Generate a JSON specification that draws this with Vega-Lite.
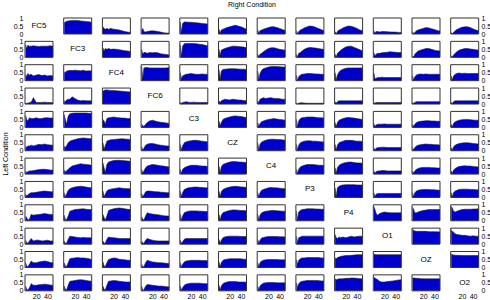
{
 "$schema": "https://vega.github.io/schema/vega-lite/v6.json",
 "padding": {"left": 1, "top": 1, "right": 0, "bottom": 0},
 "background": "white",
 "config": {"view": {"stroke": null}, "font": "Liberation Sans"},
 "bounds": "flush",
 "data": {"values": [
  {"r":"FC5","c":"FC5","t":"FC5"},
  {"r":"FC5","c":"FC3","xs":[1,3,5,8,11,15,20,25,30,35,40,45,50],"ys":[0.7,0.75,0.8,0.82,0.83,0.85,0.85,0.84,0.82,0.8,0.78,0.76,0.74]},
  {"r":"FC5","c":"FC4","xs":[1,3,5,8,11,15,20,25,30,35,40,45,50],"ys":[0.45,0.35,0.3,0.35,0.3,0.35,0.3,0.28,0.25,0.2,0.15,0.12,0.1]},
  {"r":"FC5","c":"FC6","xs":[1,3,5,8,11,15,20,25,30,35,40,45,50],"ys":[0.2,0.35,0.15,0.12,0.15,0.18,0.2,0.18,0.15,0.12,0.08,0.06,0.05]},
  {"r":"FC5","c":"C3","xs":[1,3,5,8,11,15,20,25,30,35,40,45,50],"ys":[0.75,0.1,0.65,0.75,0.75,0.74,0.73,0.72,0.7,0.68,0.66,0.64,0.62]},
  {"r":"FC5","c":"CZ","xs":[1,3,5,8,11,15,20,25,30,35,40,45,50],"ys":[0.3,0.05,0.25,0.3,0.35,0.4,0.45,0.5,0.55,0.5,0.45,0.38,0.3]},
  {"r":"FC5","c":"C4","xs":[1,3,5,8,11,15,20,25,30,35,40,45,50],"ys":[0.25,0.05,0.2,0.25,0.3,0.35,0.4,0.45,0.45,0.4,0.35,0.28,0.22]},
  {"r":"FC5","c":"P3","xs":[1,3,5,8,11,15,20,25,30,35,40,45,50],"ys":[0.2,0.02,0.15,0.25,0.3,0.38,0.45,0.5,0.48,0.42,0.35,0.28,0.2]},
  {"r":"FC5","c":"P4","xs":[1,3,5,8,11,15,20,25,30,35,40,45,50],"ys":[0.15,0.02,0.15,0.25,0.3,0.38,0.45,0.5,0.48,0.42,0.35,0.25,0.2]},
  {"r":"FC5","c":"O1","xs":[1,3,5,8,11,15,20,25,30,35,40,45,50],"ys":[0.2,0.05,0.15,0.15,0.12,0.15,0.15,0.14,0.13,0.12,0.12,0.1,0.1]},
  {"r":"FC5","c":"OZ","xs":[1,3,5,8,11,15,20,25,30,35,40,45,50],"ys":[0.15,0.02,0.1,0.2,0.25,0.3,0.35,0.4,0.38,0.33,0.28,0.22,0.18]},
  {"r":"FC5","c":"O2","xs":[1,3,5,8,11,15,20,25,30,35,40,45,50],"ys":[0.1,0.02,0.1,0.2,0.28,0.35,0.42,0.45,0.45,0.4,0.32,0.25,0.2]},

  {"r":"FC3","c":"FC5","xs":[1,3,5,8,11,15,20,25,30,35,40,45,50],"ys":[0.8,0.55,0.75,0.7,0.7,0.72,0.7,0.68,0.7,0.7,0.7,0.72,0.7]},
  {"r":"FC3","c":"FC3","t":"FC3"},
  {"r":"FC3","c":"FC4","xs":[1,3,5,8,11,15,20,25,30,35,40,45,50],"ys":[0.6,0.4,0.55,0.5,0.55,0.5,0.52,0.5,0.48,0.45,0.42,0.4,0.36]},
  {"r":"FC3","c":"FC6","xs":[1,3,5,8,11,15,20,25,30,35,40,45,50],"ys":[0.5,0.2,0.3,0.3,0.25,0.3,0.28,0.3,0.28,0.22,0.2,0.18,0.15]},
  {"r":"FC3","c":"C3","xs":[1,3,5,8,11,15,20,25,30,35,40,45,50],"ys":[0.8,0.05,0.7,0.85,0.86,0.87,0.87,0.86,0.85,0.82,0.8,0.76,0.72]},
  {"r":"FC3","c":"CZ","xs":[1,3,5,8,11,15,20,25,30,35,40,45,50],"ys":[0.5,0.1,0.45,0.5,0.55,0.6,0.65,0.7,0.7,0.68,0.66,0.64,0.6]},
  {"r":"FC3","c":"C4","xs":[1,3,5,8,11,15,20,25,30,35,40,45,50],"ys":[0.2,0.02,0.2,0.25,0.35,0.45,0.55,0.6,0.6,0.55,0.5,0.48,0.45]},
  {"r":"FC3","c":"P3","xs":[1,3,5,8,11,15,20,25,30,35,40,45,50],"ys":[0.2,0.02,0.25,0.3,0.4,0.5,0.58,0.62,0.6,0.58,0.55,0.52,0.5]},
  {"r":"FC3","c":"P4","xs":[1,3,5,8,11,15,20,25,30,35,40,45,50],"ys":[0.2,0.02,0.25,0.35,0.45,0.55,0.65,0.7,0.7,0.62,0.55,0.48,0.4]},
  {"r":"FC3","c":"O1","xs":[1,3,5,8,11,15,20,25,30,35,40,45,50],"ys":[0.3,0.08,0.2,0.25,0.25,0.28,0.3,0.32,0.35,0.33,0.32,0.3,0.3]},
  {"r":"FC3","c":"OZ","xs":[1,3,5,8,11,15,20,25,30,35,40,45,50],"ys":[0.1,0.02,0.2,0.3,0.4,0.45,0.5,0.55,0.55,0.5,0.45,0.42,0.4]},
  {"r":"FC3","c":"O2","xs":[1,3,5,8,11,15,20,25,30,35,40,45,50],"ys":[0.1,0.02,0.15,0.25,0.35,0.45,0.5,0.55,0.55,0.52,0.5,0.47,0.45]},

  {"r":"FC4","c":"FC5","xs":[1,3,5,8,11,15,20,25,30,35,40,45,50],"ys":[0.4,0.25,0.45,0.35,0.4,0.3,0.35,0.38,0.32,0.35,0.3,0.32,0.3]},
  {"r":"FC4","c":"FC3","xs":[1,3,5,8,11,15,20,25,30,35,40,45,50],"ys":[0.55,0.5,0.6,0.62,0.65,0.63,0.66,0.64,0.62,0.65,0.6,0.62,0.6]},
  {"r":"FC4","c":"FC4","t":"FC4"},
  {"r":"FC4","c":"FC6","xs":[1,3,5,8,11,15,20,25,30,35,40,45,50],"ys":[0.9,0.1,0.8,0.82,0.82,0.8,0.8,0.8,0.8,0.79,0.8,0.8,0.82]},
  {"r":"FC4","c":"C3","xs":[1,3,5,8,11,15,20,25,30,35,40,45,50],"ys":[0.5,0.1,0.3,0.35,0.4,0.42,0.45,0.42,0.4,0.4,0.42,0.4,0.4]},
  {"r":"FC4","c":"CZ","xs":[1,3,5,8,11,15,20,25,30,35,40,45,50],"ys":[0.7,0.08,0.6,0.7,0.72,0.73,0.75,0.75,0.74,0.73,0.72,0.72,0.7]},
  {"r":"FC4","c":"C4","xs":[1,3,5,8,11,15,20,25,30,35,40,45,50],"ys":[0.6,0.05,0.45,0.65,0.75,0.8,0.85,0.88,0.88,0.88,0.87,0.86,0.85]},
  {"r":"FC4","c":"P3","xs":[1,3,5,8,11,15,20,25,30,35,40,45,50],"ys":[0.35,0.02,0.25,0.35,0.4,0.42,0.45,0.45,0.44,0.42,0.42,0.4,0.4]},
  {"r":"FC4","c":"P4","xs":[1,3,5,8,11,15,20,25,30,35,40,45,50],"ys":[0.5,0.05,0.35,0.55,0.65,0.72,0.78,0.8,0.8,0.8,0.8,0.8,0.8]},
  {"r":"FC4","c":"O1","xs":[1,3,5,8,11,15,20,25,30,35,40,45,50],"ys":[0.5,0.1,0.15,0.2,0.2,0.22,0.2,0.2,0.2,0.2,0.2,0.2,0.2]},
  {"r":"FC4","c":"OZ","xs":[1,3,5,8,11,15,20,25,30,35,40,45,50],"ys":[0.3,0.05,0.25,0.35,0.4,0.42,0.4,0.42,0.4,0.4,0.4,0.4,0.4]},
  {"r":"FC4","c":"O2","xs":[1,3,5,8,11,15,20,25,30,35,40,45,50],"ys":[0.3,0.05,0.3,0.4,0.45,0.48,0.45,0.47,0.45,0.45,0.45,0.45,0.45]},

  {"r":"FC6","c":"FC5","xs":[1,3,5,8,11,15,20,25,30,35,40,45,50],"ys":[0.05,0.05,0.05,0.1,0.12,0.4,0.1,0.1,0.1,0.12,0.1,0.1,0.08]},
  {"r":"FC6","c":"FC3","xs":[1,3,5,8,11,15,20,25,30,35,40,45,50],"ys":[0.2,0.15,0.25,0.3,0.3,0.45,0.35,0.25,0.2,0.22,0.2,0.2,0.2]},
  {"r":"FC6","c":"FC4","xs":[1,3,5,8,11,15,20,25,30,35,40,45,50],"ys":[0.8,0.85,0.88,0.88,0.87,0.85,0.85,0.83,0.82,0.8,0.78,0.77,0.75]},
  {"r":"FC6","c":"FC6","t":"FC6"},
  {"r":"FC6","c":"C3","xs":[1,3,5,8,11,15,20,25,30,35,40,45,50],"ys":[0.1,0.05,0.1,0.12,0.15,0.12,0.1,0.12,0.1,0.1,0.1,0.1,0.1]},
  {"r":"FC6","c":"CZ","xs":[1,3,5,8,11,15,20,25,30,35,40,45,50],"ys":[0.2,0.1,0.2,0.25,0.3,0.28,0.25,0.3,0.28,0.25,0.25,0.22,0.2]},
  {"r":"FC6","c":"C4","xs":[1,3,5,8,11,15,20,25,30,35,40,45,50],"ys":[0.2,0.1,0.3,0.35,0.4,0.35,0.38,0.4,0.35,0.35,0.33,0.3,0.3]},
  {"r":"FC6","c":"P3","xs":[1,3,5,8,11,15,20,25,30,35,40,45,50],"ys":[0.05,0.02,0.05,0.08,0.08,0.06,0.05,0.05,0.05,0.05,0.05,0.05,0.05]},
  {"r":"FC6","c":"P4","xs":[1,3,5,8,11,15,20,25,30,35,40,45,50],"ys":[0.15,0.05,0.15,0.2,0.2,0.2,0.2,0.2,0.2,0.2,0.2,0.2,0.2]},
  {"r":"FC6","c":"O1","xs":[1,3,5,8,11,15,20,25,30,35,40,45,50],"ys":[0.1,0.05,0.1,0.1,0.1,0.1,0.1,0.1,0.1,0.1,0.1,0.1,0.1]},
  {"r":"FC6","c":"OZ","xs":[1,3,5,8,11,15,20,25,30,35,40,45,50],"ys":[0.1,0.05,0.1,0.15,0.15,0.15,0.15,0.15,0.15,0.15,0.15,0.15,0.15]},
  {"r":"FC6","c":"O2","xs":[1,3,5,8,11,15,20,25,30,35,40,45,50],"ys":[0.1,0.05,0.15,0.2,0.2,0.2,0.2,0.2,0.2,0.2,0.2,0.2,0.2]},

  {"r":"C3","c":"FC5","xs":[1,3,5,8,11,15,20,25,30,35,40,45,50],"ys":[0.75,0.5,0.4,0.6,0.55,0.55,0.6,0.55,0.55,0.6,0.6,0.58,0.58]},
  {"r":"C3","c":"FC3","xs":[1,3,5,8,11,15,20,25,30,35,40,45,50],"ys":[0.8,0.5,0.2,0.7,0.85,0.88,0.9,0.9,0.9,0.9,0.9,0.88,0.88]},
  {"r":"C3","c":"FC4","xs":[1,3,5,8,11,15,20,25,30,35,40,45,50],"ys":[0.5,0.4,0.2,0.55,0.6,0.62,0.65,0.62,0.6,0.58,0.58,0.55,0.55]},
  {"r":"C3","c":"FC6","xs":[1,3,5,8,11,15,20,25,30,35,40,45,50],"ys":[0.2,0.1,0.05,0.2,0.3,0.4,0.45,0.4,0.35,0.32,0.3,0.28,0.25]},
  {"r":"C3","c":"C3","t":"C3"},
  {"r":"C3","c":"CZ","xs":[1,3,5,8,11,15,20,25,30,35,40,45,50],"ys":[0.4,0.1,0.3,0.5,0.55,0.6,0.65,0.7,0.72,0.7,0.68,0.65,0.6]},
  {"r":"C3","c":"C4","xs":[1,3,5,8,11,15,20,25,30,35,40,45,50],"ys":[0.3,0.05,0.25,0.35,0.4,0.45,0.5,0.52,0.55,0.52,0.5,0.48,0.45]},
  {"r":"C3","c":"P3","xs":[1,3,5,8,11,15,20,25,30,35,40,45,50],"ys":[0.5,0.05,0.4,0.55,0.6,0.62,0.65,0.65,0.65,0.63,0.6,0.6,0.58]},
  {"r":"C3","c":"P4","xs":[1,3,5,8,11,15,20,25,30,35,40,45,50],"ys":[0.3,0.05,0.3,0.45,0.5,0.55,0.6,0.62,0.6,0.58,0.55,0.52,0.5]},
  {"r":"C3","c":"O1","xs":[1,3,5,8,11,15,20,25,30,35,40,45,50],"ys":[0.25,0.05,0.15,0.2,0.2,0.2,0.22,0.2,0.2,0.2,0.2,0.2,0.2]},
  {"r":"C3","c":"OZ","xs":[1,3,5,8,11,15,20,25,30,35,40,45,50],"ys":[0.2,0.05,0.2,0.3,0.35,0.38,0.4,0.42,0.42,0.4,0.4,0.38,0.38]},
  {"r":"C3","c":"O2","xs":[1,3,5,8,11,15,20,25,30,35,40,45,50],"ys":[0.2,0.05,0.25,0.35,0.4,0.45,0.48,0.5,0.5,0.48,0.46,0.45,0.45]},

  {"r":"CZ","c":"FC5","xs":[1,3,5,8,11,15,20,25,30,35,40,45,50],"ys":[0.3,0.2,0.3,0.3,0.35,0.3,0.35,0.4,0.38,0.42,0.38,0.36,0.35]},
  {"r":"CZ","c":"FC3","xs":[1,3,5,8,11,15,20,25,30,35,40,45,50],"ys":[0.3,0.2,0.3,0.5,0.6,0.65,0.7,0.75,0.78,0.8,0.78,0.76,0.75]},
  {"r":"CZ","c":"FC4","xs":[1,3,5,8,11,15,20,25,30,35,40,45,50],"ys":[0.5,0.1,0.3,0.6,0.65,0.68,0.7,0.72,0.74,0.75,0.73,0.72,0.7]},
  {"r":"CZ","c":"FC6","xs":[1,3,5,8,11,15,20,25,30,35,40,45,50],"ys":[0.25,0.05,0.15,0.35,0.4,0.45,0.45,0.42,0.38,0.35,0.33,0.3,0.3]},
  {"r":"CZ","c":"C3","xs":[1,3,5,8,11,15,20,25,30,35,40,45,50],"ys":[0.4,0.05,0.3,0.5,0.55,0.6,0.62,0.65,0.65,0.62,0.6,0.58,0.55]},
  {"r":"CZ","c":"CZ","t":"CZ"},
  {"r":"CZ","c":"C4","xs":[1,3,5,8,11,15,20,25,30,35,40,45,50],"ys":[0.5,0.05,0.4,0.55,0.6,0.65,0.7,0.72,0.72,0.7,0.7,0.68,0.65]},
  {"r":"CZ","c":"P3","xs":[1,3,5,8,11,15,20,25,30,35,40,45,50],"ys":[0.4,0.05,0.35,0.5,0.55,0.6,0.62,0.62,0.6,0.6,0.58,0.56,0.55]},
  {"r":"CZ","c":"P4","xs":[1,3,5,8,11,15,20,25,30,35,40,45,50],"ys":[0.4,0.05,0.35,0.5,0.55,0.6,0.65,0.65,0.65,0.62,0.6,0.6,0.58]},
  {"r":"CZ","c":"O1","xs":[1,3,5,8,11,15,20,25,30,35,40,45,50],"ys":[0.2,0.05,0.15,0.2,0.2,0.22,0.22,0.2,0.2,0.2,0.2,0.2,0.2]},
  {"r":"CZ","c":"OZ","xs":[1,3,5,8,11,15,20,25,30,35,40,45,50],"ys":[0.2,0.05,0.2,0.3,0.35,0.38,0.4,0.42,0.4,0.4,0.38,0.38,0.36]},
  {"r":"CZ","c":"O2","xs":[1,3,5,8,11,15,20,25,30,35,40,45,50],"ys":[0.2,0.05,0.25,0.35,0.4,0.45,0.48,0.5,0.5,0.48,0.46,0.44,0.42]},

  {"r":"C4","c":"FC5","xs":[1,3,5,8,11,15,20,25,30,35,40,45,50],"ys":[0.2,0.1,0.15,0.2,0.2,0.22,0.25,0.28,0.3,0.3,0.28,0.25,0.25]},
  {"r":"C4","c":"FC3","xs":[1,3,5,8,11,15,20,25,30,35,40,45,50],"ys":[0.25,0.15,0.2,0.3,0.4,0.5,0.55,0.6,0.65,0.62,0.6,0.58,0.55]},
  {"r":"C4","c":"FC4","xs":[1,3,5,8,11,15,20,25,30,35,40,45,50],"ys":[0.7,0.4,0.1,0.6,0.75,0.8,0.85,0.86,0.86,0.85,0.84,0.82,0.8]},
  {"r":"C4","c":"FC6","xs":[1,3,5,8,11,15,20,25,30,35,40,45,50],"ys":[0.3,0.05,0.2,0.4,0.5,0.55,0.6,0.58,0.55,0.52,0.5,0.47,0.45]},
  {"r":"C4","c":"C3","xs":[1,3,5,8,11,15,20,25,30,35,40,45,50],"ys":[0.3,0.05,0.3,0.4,0.45,0.5,0.55,0.55,0.55,0.52,0.5,0.5,0.48]},
  {"r":"C4","c":"CZ","xs":[1,3,5,8,11,15,20,25,30,35,40,45,50],"ys":[0.5,0.05,0.45,0.6,0.65,0.7,0.75,0.78,0.78,0.76,0.75,0.74,0.72]},
  {"r":"C4","c":"C4","t":"C4"},
  {"r":"C4","c":"P3","xs":[1,3,5,8,11,15,20,25,30,35,40,45,50],"ys":[0.3,0.05,0.3,0.45,0.5,0.55,0.6,0.6,0.6,0.58,0.56,0.55,0.55]},
  {"r":"C4","c":"P4","xs":[1,3,5,8,11,15,20,25,30,35,40,45,50],"ys":[0.4,0.05,0.4,0.55,0.62,0.68,0.72,0.75,0.75,0.72,0.7,0.7,0.68]},
  {"r":"C4","c":"O1","xs":[1,3,5,8,11,15,20,25,30,35,40,45,50],"ys":[0.2,0.05,0.15,0.2,0.2,0.22,0.22,0.2,0.2,0.2,0.2,0.2,0.2]},
  {"r":"C4","c":"OZ","xs":[1,3,5,8,11,15,20,25,30,35,40,45,50],"ys":[0.2,0.05,0.2,0.3,0.35,0.4,0.42,0.42,0.42,0.4,0.4,0.38,0.38]},
  {"r":"C4","c":"O2","xs":[1,3,5,8,11,15,20,25,30,35,40,45,50],"ys":[0.2,0.05,0.25,0.35,0.42,0.48,0.5,0.52,0.5,0.5,0.48,0.46,0.45]},

  {"r":"P3","c":"FC5","xs":[1,3,5,8,11,15,20,25,30,35,40,45,50],"ys":[0.2,0.1,0.15,0.25,0.3,0.3,0.32,0.35,0.38,0.4,0.38,0.36,0.35]},
  {"r":"P3","c":"FC3","xs":[1,3,5,8,11,15,20,25,30,35,40,45,50],"ys":[0.3,0.05,0.2,0.45,0.55,0.6,0.65,0.68,0.7,0.68,0.65,0.62,0.6]},
  {"r":"P3","c":"FC4","xs":[1,3,5,8,11,15,20,25,30,35,40,45,50],"ys":[0.4,0.05,0.2,0.4,0.48,0.52,0.55,0.58,0.6,0.58,0.56,0.55,0.55]},
  {"r":"P3","c":"FC6","xs":[1,3,5,8,11,15,20,25,30,35,40,45,50],"ys":[0.25,0.05,0.15,0.35,0.4,0.4,0.38,0.36,0.35,0.33,0.32,0.3,0.3]},
  {"r":"P3","c":"C3","xs":[1,3,5,8,11,15,20,25,30,35,40,45,50],"ys":[0.4,0.05,0.3,0.5,0.55,0.6,0.62,0.65,0.65,0.63,0.62,0.6,0.6]},
  {"r":"P3","c":"CZ","xs":[1,3,5,8,11,15,20,25,30,35,40,45,50],"ys":[0.4,0.05,0.35,0.5,0.55,0.6,0.65,0.68,0.7,0.68,0.66,0.65,0.62]},
  {"r":"P3","c":"C4","xs":[1,3,5,8,11,15,20,25,30,35,40,45,50],"ys":[0.3,0.05,0.3,0.45,0.5,0.55,0.6,0.62,0.6,0.6,0.58,0.56,0.55]},
  {"r":"P3","c":"P3","t":"P3"},
  {"r":"P3","c":"P4","xs":[1,3,5,8,11,15,20,25,30,35,40,45,50],"ys":[0.6,0.05,0.6,0.7,0.75,0.78,0.8,0.8,0.8,0.8,0.78,0.78,0.78]},
  {"r":"P3","c":"O1","xs":[1,3,5,8,11,15,20,25,30,35,40,45,50],"ys":[0.3,0.05,0.2,0.25,0.25,0.25,0.25,0.25,0.25,0.25,0.25,0.25,0.25]},
  {"r":"P3","c":"OZ","xs":[1,3,5,8,11,15,20,25,30,35,40,45,50],"ys":[0.3,0.05,0.3,0.4,0.45,0.48,0.5,0.5,0.5,0.48,0.48,0.46,0.45]},
  {"r":"P3","c":"O2","xs":[1,3,5,8,11,15,20,25,30,35,40,45,50],"ys":[0.3,0.05,0.3,0.4,0.45,0.5,0.52,0.52,0.52,0.5,0.5,0.48,0.48]},

  {"r":"P4","c":"FC5","xs":[1,3,5,8,11,15,20,25,30,35,40,45,50],"ys":[0.3,0.2,0.05,0.1,0.4,0.35,0.38,0.4,0.42,0.45,0.42,0.4,0.4]},
  {"r":"P4","c":"FC3","xs":[1,3,5,8,11,15,20,25,30,35,40,45,50],"ys":[0.35,0.1,0.05,0.3,0.6,0.65,0.7,0.72,0.74,0.75,0.72,0.7,0.7]},
  {"r":"P4","c":"FC4","xs":[1,3,5,8,11,15,20,25,30,35,40,45,50],"ys":[0.4,0.2,0.05,0.3,0.65,0.7,0.75,0.78,0.8,0.78,0.75,0.72,0.7]},
  {"r":"P4","c":"FC6","xs":[1,3,5,8,11,15,20,25,30,35,40,45,50],"ys":[0.25,0.1,0.05,0.3,0.5,0.45,0.42,0.4,0.38,0.35,0.32,0.3,0.3]},
  {"r":"P4","c":"C3","xs":[1,3,5,8,11,15,20,25,30,35,40,45,50],"ys":[0.4,0.05,0.3,0.5,0.55,0.6,0.62,0.62,0.62,0.6,0.6,0.58,0.58]},
  {"r":"P4","c":"CZ","xs":[1,3,5,8,11,15,20,25,30,35,40,45,50],"ys":[0.4,0.05,0.35,0.5,0.55,0.6,0.65,0.68,0.68,0.66,0.65,0.64,0.62]},
  {"r":"P4","c":"C4","xs":[1,3,5,8,11,15,20,25,30,35,40,45,50],"ys":[0.4,0.05,0.35,0.5,0.55,0.6,0.62,0.65,0.65,0.63,0.62,0.6,0.6]},
  {"r":"P4","c":"P3","xs":[1,3,5,8,11,15,20,25,30,35,40,45,50],"ys":[0.6,0.05,0.55,0.65,0.7,0.72,0.75,0.75,0.75,0.74,0.73,0.72,0.72]},
  {"r":"P4","c":"P4","t":"P4"},
  {"r":"P4","c":"O1","xs":[1,3,5,8,11,15,20,25,30,35,40,45,50],"ys":[0.9,0.7,0.45,0.35,0.45,0.5,0.55,0.52,0.5,0.5,0.5,0.5,0.5]},
  {"r":"P4","c":"OZ","xs":[1,3,5,8,11,15,20,25,30,35,40,45,50],"ys":[0.85,0.7,0.5,0.5,0.55,0.6,0.65,0.67,0.7,0.7,0.7,0.7,0.7]},
  {"r":"P4","c":"O2","xs":[1,3,5,8,11,15,20,25,30,35,40,45,50],"ys":[0.9,0.8,0.6,0.55,0.6,0.65,0.7,0.72,0.72,0.72,0.73,0.74,0.75]},

  {"r":"O1","c":"FC5","xs":[1,3,5,8,11,15,20,25,30,35,40,45,50],"ys":[0.25,0.1,0.05,0.2,0.35,0.2,0.25,0.25,0.2,0.22,0.25,0.2,0.2]},
  {"r":"O1","c":"FC3","xs":[1,3,5,8,11,15,20,25,30,35,40,45,50],"ys":[0.2,0.05,0.05,0.3,0.5,0.48,0.45,0.42,0.4,0.42,0.4,0.4,0.4]},
  {"r":"O1","c":"FC4","xs":[1,3,5,8,11,15,20,25,30,35,40,45,50],"ys":[0.2,0.05,0.05,0.3,0.45,0.42,0.4,0.38,0.35,0.35,0.35,0.35,0.35]},
  {"r":"O1","c":"FC6","xs":[1,3,5,8,11,15,20,25,30,35,40,45,50],"ys":[0.2,0.05,0.05,0.25,0.35,0.3,0.25,0.22,0.2,0.2,0.2,0.2,0.2]},
  {"r":"O1","c":"C3","xs":[1,3,5,8,11,15,20,25,30,35,40,45,50],"ys":[0.25,0.05,0.15,0.3,0.35,0.35,0.35,0.35,0.35,0.35,0.35,0.35,0.35]},
  {"r":"O1","c":"CZ","xs":[1,3,5,8,11,15,20,25,30,35,40,45,50],"ys":[0.3,0.05,0.25,0.4,0.45,0.48,0.5,0.5,0.5,0.5,0.48,0.48,0.48]},
  {"r":"O1","c":"C4","xs":[1,3,5,8,11,15,20,25,30,35,40,45,50],"ys":[0.3,0.05,0.25,0.38,0.42,0.45,0.48,0.48,0.48,0.48,0.46,0.46,0.45]},
  {"r":"O1","c":"P3","xs":[1,3,5,8,11,15,20,25,30,35,40,45,50],"ys":[0.5,0.1,0.4,0.45,0.5,0.5,0.5,0.5,0.5,0.5,0.5,0.5,0.5]},
  {"r":"O1","c":"P4","xs":[1,3,5,8,11,15,20,25,30,35,40,45,50],"ys":[0.6,0.4,0.35,0.45,0.4,0.45,0.4,0.45,0.5,0.45,0.48,0.5,0.5]},
  {"r":"O1","c":"O1","t":"O1"},
  {"r":"O1","c":"OZ","xs":[1,3,5,8,11,15,20,25,30,35,40,45,50],"ys":[0.95,0.85,0.82,0.8,0.8,0.8,0.8,0.8,0.78,0.78,0.78,0.77,0.76]},
  {"r":"O1","c":"O2","xs":[1,3,5,8,11,15,20,25,30,35,40,45,50],"ys":[0.9,0.8,0.75,0.65,0.6,0.58,0.55,0.55,0.52,0.5,0.52,0.5,0.5]},

  {"r":"OZ","c":"FC5","xs":[1,3,5,8,11,15,20,25,30,35,40,45,50],"ys":[0.3,0.1,0.05,0.2,0.4,0.3,0.3,0.35,0.38,0.4,0.38,0.32,0.3]},
  {"r":"OZ","c":"FC3","xs":[1,3,5,8,11,15,20,25,30,35,40,45,50],"ys":[0.3,0.1,0.05,0.3,0.55,0.58,0.6,0.62,0.6,0.6,0.58,0.55,0.5]},
  {"r":"OZ","c":"FC4","xs":[1,3,5,8,11,15,20,25,30,35,40,45,50],"ys":[0.35,0.1,0.05,0.3,0.5,0.55,0.6,0.58,0.52,0.5,0.48,0.46,0.45]},
  {"r":"OZ","c":"FC6","xs":[1,3,5,8,11,15,20,25,30,35,40,45,50],"ys":[0.2,0.05,0.05,0.3,0.45,0.4,0.35,0.33,0.3,0.3,0.28,0.26,0.25]},
  {"r":"OZ","c":"C3","xs":[1,3,5,8,11,15,20,25,30,35,40,45,50],"ys":[0.3,0.05,0.2,0.35,0.4,0.42,0.45,0.45,0.45,0.45,0.44,0.44,0.42]},
  {"r":"OZ","c":"CZ","xs":[1,3,5,8,11,15,20,25,30,35,40,45,50],"ys":[0.35,0.05,0.3,0.45,0.5,0.52,0.55,0.55,0.55,0.55,0.54,0.52,0.52]},
  {"r":"OZ","c":"C4","xs":[1,3,5,8,11,15,20,25,30,35,40,45,50],"ys":[0.3,0.05,0.3,0.4,0.45,0.48,0.5,0.5,0.5,0.5,0.48,0.48,0.48]},
  {"r":"OZ","c":"P3","xs":[1,3,5,8,11,15,20,25,30,35,40,45,50],"ys":[0.5,0.2,0.45,0.55,0.6,0.6,0.62,0.62,0.62,0.62,0.62,0.6,0.6]},
  {"r":"OZ","c":"P4","xs":[1,3,5,8,11,15,20,25,30,35,40,45,50],"ys":[0.6,0.55,0.62,0.65,0.7,0.72,0.75,0.75,0.76,0.78,0.8,0.8,0.8]},
  {"r":"OZ","c":"O1","xs":[1,3,5,8,11,15,20,25,30,35,40,45,50],"ys":[0.85,0.82,0.8,0.8,0.8,0.8,0.8,0.8,0.8,0.8,0.8,0.8,0.8]},
  {"r":"OZ","c":"OZ","t":"OZ"},
  {"r":"OZ","c":"O2","xs":[1,3,5,8,11,15,20,25,30,35,40,45,50],"ys":[0.85,0.8,0.78,0.77,0.76,0.76,0.75,0.75,0.75,0.75,0.75,0.75,0.75]},

  {"r":"O2","c":"FC5","xs":[1,3,5,8,11,15,20,25,30,35,40,45,50],"ys":[0.3,0.1,0.05,0.2,0.45,0.35,0.35,0.38,0.4,0.42,0.4,0.36,0.35]},
  {"r":"O2","c":"FC3","xs":[1,3,5,8,11,15,20,25,30,35,40,45,50],"ys":[0.3,0.1,0.05,0.35,0.6,0.62,0.65,0.68,0.7,0.68,0.65,0.62,0.6]},
  {"r":"O2","c":"FC4","xs":[1,3,5,8,11,15,20,25,30,35,40,45,50],"ys":[0.3,0.1,0.05,0.35,0.6,0.62,0.65,0.63,0.6,0.58,0.56,0.55,0.55]},
  {"r":"O2","c":"FC6","xs":[1,3,5,8,11,15,20,25,30,35,40,45,50],"ys":[0.3,0.05,0.05,0.3,0.4,0.38,0.35,0.33,0.3,0.3,0.28,0.26,0.25]},
  {"r":"O2","c":"C3","xs":[1,3,5,8,11,15,20,25,30,35,40,45,50],"ys":[0.3,0.05,0.2,0.35,0.42,0.45,0.48,0.48,0.48,0.48,0.46,0.45,0.45]},
  {"r":"O2","c":"CZ","xs":[1,3,5,8,11,15,20,25,30,35,40,45,50],"ys":[0.35,0.05,0.3,0.45,0.5,0.55,0.58,0.58,0.58,0.56,0.55,0.55,0.54]},
  {"r":"O2","c":"C4","xs":[1,3,5,8,11,15,20,25,30,35,40,45,50],"ys":[0.3,0.05,0.3,0.42,0.48,0.5,0.52,0.52,0.52,0.5,0.5,0.5,0.5]},
  {"r":"O2","c":"P3","xs":[1,3,5,8,11,15,20,25,30,35,40,45,50],"ys":[0.5,0.2,0.45,0.55,0.6,0.62,0.65,0.65,0.65,0.65,0.64,0.62,0.62]},
  {"r":"O2","c":"P4","xs":[1,3,5,8,11,15,20,25,30,35,40,45,50],"ys":[0.75,0.7,0.72,0.75,0.75,0.75,0.78,0.78,0.8,0.8,0.78,0.76,0.75]},
  {"r":"O2","c":"O1","xs":[1,3,5,8,11,15,20,25,30,35,40,45,50],"ys":[0.85,0.8,0.75,0.7,0.6,0.55,0.55,0.58,0.6,0.62,0.65,0.68,0.7]},
  {"r":"O2","c":"OZ","xs":[1,3,5,8,11,15,20,25,30,35,40,45,50],"ys":[0.8,0.8,0.8,0.78,0.78,0.76,0.76,0.75,0.75,0.75,0.75,0.75,0.75]},
  {"r":"O2","c":"O2","t":"O2"}
 ]},
 "facet": {
  "row": {"field": "r", "type": "nominal", "sort": ["FC5","FC3","FC4","FC6","C3","CZ","C4","P3","P4","O1","OZ","O2"],
          "header": {"labels": false, "title": "Left Condition", "titleFontSize": 7, "titleFontWeight": "normal", "titleFont": "Liberation Sans", "titlePadding": -6}},
  "column": {"field": "c", "type": "nominal", "sort": ["FC5","FC3","FC4","FC6","C3","CZ","C4","P3","P4","O1","OZ","O2"],
          "header": {"labels": false, "title": "Right Condition", "titleFontSize": 7, "titleFontWeight": "normal", "titleFont": "Liberation Sans", "titlePadding": 0}}
 },
 "spacing": {"row": 7.35, "column": 10.7},
 "spec": {
  "width": 28,
  "height": 16,
  "layer": [
   {
    "transform": [{"filter": "datum.t == null"}, {"flatten": ["xs", "ys"], "as": ["x", "y"]}],
    "mark": {"type": "area", "color": "#0000CD"},
    "encoding": {
     "x": {"field": "x", "type": "quantitative", "scale": {"domain": [0, 50], "nice": false},
           "axis": {"values": [20, 40], "ticks": false, "domain": false, "grid": false, "labelFontSize": 7, "labelPadding": 1, "title": null, "labelColor": "black"}},
     "y": {"field": "y", "type": "quantitative", "stack": null, "scale": {"domain": [0, 1], "nice": false},
           "axis": {"values": [0, 0.5, 1], "format": "~g", "ticks": false, "domain": false, "grid": false, "labelFontSize": 7, "labelPadding": 2, "title": null, "labelColor": "black"}}
    }
   },
   {
    "transform": [{"filter": "!datum.t"}, {"flatten": ["xs", "ys"], "as": ["x", "y"]}],
    "mark": {"type": "line", "color": "#222222", "strokeWidth": 0.6},
    "encoding": {
     "x": {"field": "x", "type": "quantitative"},
     "y": {"field": "y", "type": "quantitative",
           "axis": {"orient": "right", "values": [0, 0.5, 1], "format": "~g", "ticks": false, "domain": false, "grid": false, "labelFontSize": 7, "labelPadding": 2, "title": null, "labelColor": "black"}}
    }
   },
   {
    "transform": [{"filter": "!isValid(datum.t)"}],
    "mark": {"type": "rect", "fill": "transparent", "stroke": "#333333", "strokeWidth": 1},
    "encoding": {}
   },
   {
    "transform": [{"filter": "isValid(datum.t)"}],
    "mark": {"type": "text", "fontSize": 8, "font": "Liberation Sans", "fill": "black"},
    "encoding": {"text": {"field": "t"}}
   }
  ],
  "resolve": {"axis": {"y": "independent"}}
 }
}
